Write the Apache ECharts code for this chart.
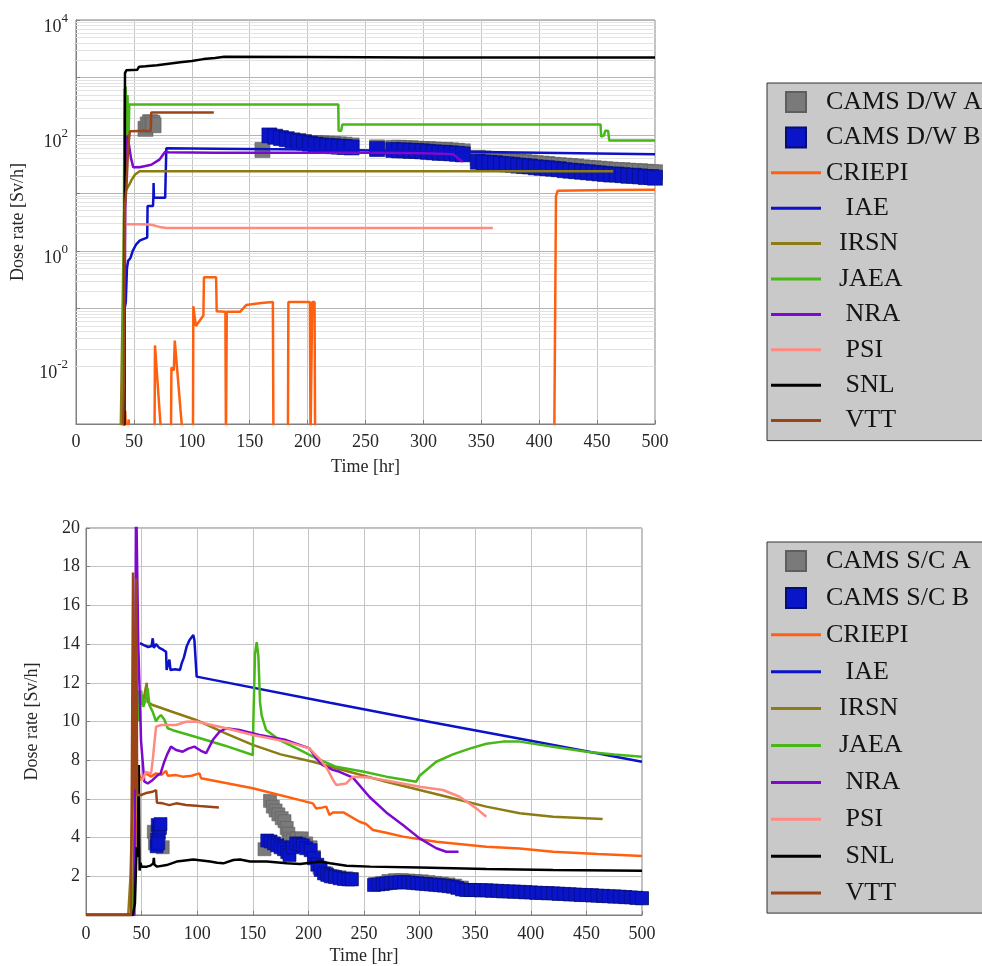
<!DOCTYPE html>
<html><head><meta charset="utf-8">
<script src="https://cdn.jsdelivr.net/npm/echarts@6/dist/echarts.min.js"></script>
<style>html,body{margin:0;padding:0;background:#fff}#c{width:982px;height:966px}</style>
</head><body><div id="c"></div><script>
// ---------- data (hours, Sv/h) ----------
const xTicks = [0,50,100,150,200,250,300,350,400,450,500];
const topYLabelExp = [-2,0,2,4];
const botYTicks = [2,4,6,8,10,12,14,16,18,20];

const legendTop = ['CAMS D/W A','CAMS D/W B','CRIEPI','IAE','IRSN','JAEA','NRA','PSI','SNL','VTT'];
const legendBot = ['CAMS S/C A','CAMS S/C B','CRIEPI','IAE','IRSN','JAEA','NRA','PSI','SNL','VTT'];

// top (log) chart
const topCamsA = [[60,130],[62,155],[64,170],[66,165],[67,150],[161,56],[192,80],[197,77],[202,74],[207,74],[212,73],[217,72],[222,71],[227,70],[232,69],[238,67],[260,62],[274,61],[279,61],[284,60],[289,60],[294,59],[299,58],[304,58],[309,57],[314,56],[319,56],[324,55],[329,54],[334,53],[347,41],[352,40],[357,39],[362,38],[367,37],[372,36.5],[377,36],[382,35],[387,34.5],[392,34],[397,33],[402,32.5],[407,32],[412,31],[417,30.5],[422,30],[427,29.5],[432,29],[437,28],[442,27.5],[447,27],[452,26.5],[457,26],[462,25.5],[467,25],[472,25],[477,24.5],[482,24],[487,24],[492,23.5],[497,23],[500,23]];
const topCamsB = [[167,100],[172,95],[177,90],[182,86],[187,82],[192,78],[197,75],[202,72],[207,69],[212,67],[217,66],[222,65],[227,64],[232,63],[238,62],[260,58],[274,56],[279,55],[284,55],[289,54],[294,54],[299,53],[304,52],[309,51],[314,50],[319,50],[324,49],[329,48],[334,47],[347,35],[352,34],[357,33.5],[362,33],[367,32],[372,31.5],[377,31],[382,30],[387,29.5],[392,29],[397,28],[402,27.5],[407,27],[412,26.5],[417,26],[422,25],[427,24.5],[432,24],[437,23.5],[442,23],[447,22.5],[452,22],[457,21.5],[462,21],[467,21],[472,20.5],[477,20],[482,20],[487,19.5],[492,19],[497,19],[500,18.5]];
const topCRIEPI = [[40,5e-4],[42,5e-4],[42.5,0.0017],[43.5,5e-4],[45,5e-4],[45.5,0.0012],[46,5e-4],[67.8,5e-4],[68.2,0.023],[74,5e-4],[82,5e-4],[82.4,0.0095],[84.5,0.0085],[85.3,0.028],[92.5,5e-4],[101,5e-4],[101.3,0.11],[103.5,0.05],[110,0.076],[110.5,0.35],[121,0.35],[121.5,0.09],[129,0.088],[129.5,5e-4],[130.2,0.088],[141.6,0.088],[147,0.115],[160,0.125],[170,0.13],[170.5,5e-4],[183,5e-4],[183.4,0.13],[202,0.13],[202.5,5e-4],[204,0.13],[206,0.13],[206.5,5e-4],[413,5e-4],[414.5,9],[416,11],[460,11.3],[500,11.4]];
const topIAE = [[42,0.1],[43,0.13],[44,0.5],[45,0.67],[47,0.75],[49,1.0],[52,1.3],[55,1.5],[58,1.6],[61.5,1.7],[61.8,6],[66.5,6],[66.8,8.3],[67,15],[67.3,8.3],[77,8.3],[78,60],[120,59],[200,57],[300,53],[400,50],[500,47]];
const topIRSN = [[38.5,5e-4],[40,0.05],[41.5,4],[42.3,10.5],[44,12],[46,14],[48,17],[51,21],[55,24],[464,24]];
const topJAEA = [[41,5e-4],[41.5,17],[42,650],[42.5,30],[43,700],[43.5,25],[44.5,500],[45.2,60],[46,345],[226.5,345],[226.8,120],[229,120],[230,155],[453,155],[453.5,95],[456,100],[457,120],[459.5,120],[460.5,82],[500,82]];
const topNRA = [[41.5,5e-4],[42.5,5],[43.5,40],[44.5,100],[46,105],[47.5,40],[49.5,28],[55,28],[65,31],[72,38],[77,52],[80,51],[120,50],[200,50],[250,50],[300,49],[326,47],[330,40],[334,35]];
const topPSI = [[42,2.9],[55,2.9],[62,2.85],[66,2.8],[72,2.6],[78,2.5],[200,2.5],[360,2.5]];
const topSNL = [[40.5,5e-4],[41.8,1e-3],[42.3,1200],[43.5,1350],[53,1380],[54.5,1550],[60,1580],[70,1650],[80,1750],[90,1850],[100,1950],[110,2100],[120,2200],[128,2300],[200,2280],[300,2250],[500,2230]];
const topVTT = [[40.5,5e-4],[41.5,0.01],[42.3,6],[43.5,12],[45,60],[46.5,118],[64.5,120],[65,250],[119,250]];

// bottom (linear) chart
const botCamsA = [[61,4.3],[62,3.7],[69,3.5],[160.5,3.4],[165.5,5.9],[168,5.6],[170.5,5.4],[173,5.2],[176,5.0],[178.5,4.85],[180.5,4.5],[182,4.2],[183.5,3.95],[186,3.85],[190,3.95],[194,3.96],[198,3.7],[202,3.5],[205,3.0],[210,2.45],[216,2.15],[222,2.0],[228,1.95],[234,1.9],[239,1.86],[260,1.6],[266,1.66],[272,1.76],[278,1.8],[284,1.8],[290,1.78],[296,1.76],[302,1.74],[308,1.7],[314,1.66],[320,1.62],[326,1.58],[332,1.52],[338,1.42],[345,1.3],[355,1.27],[365,1.25],[375,1.22],[385,1.2],[395,1.17],[405,1.14],[415,1.12],[425,1.09],[435,1.06],[445,1.03],[455,1.01],[465,0.98],[475,0.95],[485,0.92],[495,0.88],[500,0.86]];
const botCamsB = [[63.5,3.55],[64,3.9],[64.5,4.65],[65.5,4.25],[66.5,4.5],[67,4.7],[65,3.7],[163,3.85],[166,3.8],[169,3.7],[172,3.6],[175,3.5],[178,3.4],[181,3.25],[183,3.1],[186,3.5],[189,3.7],[192,3.65],[195,3.6],[198,3.45],[202,3.35],[205,2.93],[208,2.6],[211,2.33],[214,2.15],[217,2.07],[220,2.0],[224,1.96],[228,1.9],[232,1.86],[236,1.84],[239,1.84],[259,1.55],[263,1.58],[267,1.6],[270,1.64],[274,1.66],[278,1.68],[282,1.69],[286,1.7],[290,1.68],[294,1.66],[298,1.64],[302,1.62],[306,1.6],[310,1.58],[314,1.56],[318,1.54],[322,1.52],[326,1.49],[330,1.46],[334,1.4],[338,1.32],[342,1.29],[346,1.29],[350,1.29],[355,1.28],[360,1.28],[365,1.26],[370,1.25],[375,1.23],[380,1.22],[385,1.21],[390,1.2],[395,1.18],[400,1.17],[405,1.15],[410,1.14],[415,1.13],[420,1.12],[425,1.1],[430,1.09],[435,1.07],[440,1.06],[445,1.04],[450,1.03],[455,1.02],[460,1.0],[465,0.99],[470,0.97],[475,0.96],[480,0.95],[485,0.93],[490,0.91],[495,0.89],[500,0.87]];
const botCRIEPI = [[0,0],[42,0],[44,3],[45.5,6],[46.5,7.6],[48,7.2],[49.5,6.98],[52,7.2],[54,7.32],[58.5,7.15],[63,7.32],[68,7.25],[72,7.45],[73.5,7.2],[81,7.23],[87,7.15],[95,7.2],[102,7.32],[103.5,7.07],[150,6.55],[204,5.77],[207,5.5],[212,5.55],[216,5.6],[219,5.17],[222,5.3],[231.5,5.3],[246,4.82],[252,4.7],[258,4.39],[270,4.25],[285,4.05],[315,3.79],[360,3.53],[390,3.44],[420,3.27],[460,3.15],[500,3.05]];
const botIAE = [[48.5,14.05],[52,13.95],[56,13.85],[59,13.9],[60,14.3],[61,13.8],[63,14.0],[66,13.8],[69.5,13.7],[72,13.6],[72.5,12.66],[74,12.7],[75,13.2],[76,12.66],[80,12.7],[84.5,12.66],[86,13.0],[88,13.3],[90.5,13.87],[93,14.2],[96.5,14.47],[97.5,14.2],[99.5,12.32],[219.4,10.97],[300,10.08],[400,9.0],[500,7.92]];
const botIRSN = [[0,0],[38,0],[40,2],[42,6],[44,9],[45.5,10.5],[48,10.8],[52,11.2],[54.6,12.0],[55.5,11.0],[57,10.9],[60,10.85],[80,10.45],[99,10.08],[125,9.4],[150,8.79],[175,8.3],[204,7.92],[240,7.35],[270,6.89],[300,6.46],[330,6.03],[360,5.6],[390,5.26],[420,5.08],[464.6,4.96]];
const botJAEA = [[0,0],[42,0],[44,5],[45.5,10],[46.5,11.6],[47.5,10.0],[48.5,11.4],[49.5,11.6],[51.5,10.76],[53,11.0],[55.5,11.7],[57,10.85],[60,10.5],[63,10.0],[65,10.2],[67.4,10.33],[70.4,10.1],[73.5,9.65],[78,9.55],[99,9.2],[125,8.75],[150,8.27],[150.5,10],[152,13.5],[153.5,14.1],[155,13.4],[156.5,11],[158,10.3],[162,9.56],[174,9.04],[190,8.6],[204,8.18],[225,7.66],[250,7.4],[270,7.15],[297,6.89],[300,7.2],[315,7.92],[330,8.3],[345,8.6],[360,8.85],[375,8.96],[390,8.96],[420,8.7],[450,8.44],[475,8.3],[500,8.18]];
const botNRA = [[0,0],[43.5,0],[45,22],[46,22],[47,14],[49.5,9],[52.4,6.9],[55.5,6.8],[60,6.98],[64.5,7.23],[67,7.3],[70.4,7.92],[73,8.3],[76.4,8.7],[81,8.53],[87,8.44],[92,8.6],[97.4,8.7],[103,8.5],[108,8.36],[114,9.04],[120,9.47],[126,9.65],[138,9.56],[156,9.3],[180,9.04],[201,8.61],[207,8.1],[213,7.75],[222,7.5],[228,7.4],[240,7.1],[255,6.1],[270,5.3],[285,4.65],[300,3.96],[315,3.45],[324,3.27],[335,3.27]];
const botPSI = [[47.5,7.0],[51,7.0],[54,7.4],[58.5,7.3],[60,8.0],[63,9.73],[67.5,9.82],[81,9.82],[90,9.99],[99,10.0],[126,9.65],[150,9.3],[180,8.96],[201,8.61],[206,8.3],[210.4,8.05],[216.5,7.6],[222,7.0],[225,6.72],[234,6.8],[240,7.15],[255,7.1],[270,6.95],[300,6.63],[321,6.46],[336,6.11],[351,5.51],[360,5.08]];
const botSNL = [[0,0],[42,0],[44,0.6],[45.5,3.5],[46.5,3.0],[47.5,7.75],[48.2,2.3],[49,2.7],[50,2.5],[54.6,2.5],[58,2.55],[60.5,2.67],[61,2.95],[61.5,2.6],[64,2.5],[72.5,2.58],[77,2.67],[81.5,2.76],[96.5,2.87],[111.5,2.76],[118,2.7],[123.5,2.67],[132.5,2.84],[138.5,2.87],[147.5,2.76],[162.5,2.76],[180.5,2.67],[192.5,2.64],[210.4,2.76],[219.4,2.67],[234.4,2.55],[255.5,2.5],[300,2.45],[360,2.38],[420,2.33],[500,2.29]];
const botVTT = [[0,0],[40.5,0],[42.3,17.7],[43,9],[44,6.5],[45.2,17.4],[46,6.2],[49.5,6.2],[54,6.3],[60,6.37],[63,6.46],[63.8,5.8],[69,5.77],[75,5.68],[81,5.77],[90,5.68],[102,5.63],[119.5,5.56]];

// ---------- styling ----------
const F = 'Liberation Serif';
const TXT = '#262626';
const AX = '#7f7f7f';
const colors = {CRIEPI:'#ff6010', IAE:'#0c12c8', IRSN:'#8c7c14', JAEA:'#48b818', NRA:'#7f08d0', PSI:'#ff8a82', SNL:'#000000', VTT:'#9a4418'};
const grayC = '#7a7a7a', blueC = '#0a14c8';
const SQ = 'path://M0,0L10,0L10,10L0,10Z';
const LN = 'path://M0,0L50,0L50,3L0,3Z';

function line(name, data, xi) {
  return {name, type:'line', data, xAxisIndex:xi, yAxisIndex:xi, symbol:'none', showSymbol:false,
    lineStyle:{color:colors[name], width:2.5}, itemStyle:{color:colors[name]}, z:3, clip:true, silent:true};
}
function squares(name, data, xi, color, border, size) {
  return {name, type:'scatter', data, xAxisIndex:xi, yAxisIndex:xi, symbol:'rect', symbolSize:size,
    itemStyle:{color, borderColor:border, borderWidth:0.6, opacity:1}, z:2, clip:true, silent:true};
}

const minorVals = [];
for (let k = -3; k <= 3; k++) for (let m = 2; m <= 9; m++) minorVals.push(m * Math.pow(10, k));

const indent = {IAE:3, IRSN:2, JAEA:2, NRA:3, PSI:3, SNL:3, VTT:3};
function legendCfg(names, top, gap) {
  return {
    orient:'vertical', left:767, top, backgroundColor:'#c9c9c9', borderColor:'#333', borderWidth:1,
    itemWidth:50, itemHeight:20, itemGap:gap, padding:[6,60,7,4], selectedMode:false,
    symbolKeepAspect:true,
    textStyle:{fontFamily:F, fontSize:26, color:'#141414', lineHeight:22},
    formatter: n => '\u00a0'.repeat(indent[n] || 0) + n,
    data: names.map(n => n.startsWith('CAMS')
      ? {name:n, icon:SQ}
      : {name:n, icon:LN, itemStyle:{color:colors[n], borderWidth:0}})
  };
}

const xAxisBase = (gi, margin, gap) => ({
  type:'value', gridIndex:gi, min:xTicks[0], max:xTicks[xTicks.length-1], interval:xTicks[1]-xTicks[0],
  name:'Time [hr]', nameLocation:'middle', nameGap:gap,
  nameTextStyle:{fontFamily:F, fontSize:18, color:TXT},
  axisLine:{lineStyle:{color:AX}}, axisTick:{inside:true, length:4, lineStyle:{color:AX}},
  axisLabel:{fontFamily:F, fontSize:18, color:TXT, margin},
  splitLine:{show:true, lineStyle:{color:'#c4c4c4', width:1}}
});

const option = {
  animation:false,
  backgroundColor:'#ffffff',
  grid:[
    {left:76, top:20, width:579, height:404, show:true, borderColor:AX, borderWidth:1, backgroundColor:'transparent'},
    {left:86, top:528, width:556, height:387, show:true, borderColor:AX, borderWidth:1, backgroundColor:'transparent'}
  ],
  legend:[legendCfg(legendTop, 83, 9.4), legendCfg(legendBot, 542, 10.9)],
  xAxis:[xAxisBase(0, 9, 34), xAxisBase(1, 10, 32)],
  yAxis:[
    {type:'log', logBase:10, gridIndex:0, min:0.001, max:10000, interval:1,
     name:'Dose rate [Sv/h]', nameLocation:'middle', nameGap:49,
     nameTextStyle:{fontFamily:F, fontSize:18, color:TXT},
     axisLine:{lineStyle:{color:AX}}, axisTick:{inside:true, length:4, lineStyle:{color:AX}},
     axisLabel:{margin:8, color:TXT, fontFamily:F, padding:[14,0,0,0],
       formatter: v => { const e = Math.round(Math.log10(v)); return topYLabelExp.includes(e) ? '{b|10}{s|' + e + '}' : ''; },
       rich:{ b:{fontFamily:F, fontSize:18, color:TXT, lineHeight:30},
              s:{fontFamily:F, fontSize:13, color:TXT, lineHeight:18, verticalAlign:'top'} }},
     splitLine:{show:true, lineStyle:{color:'#b4b4b4', width:1}}},
    {type:'value', gridIndex:1, min:0, max:20, interval:2,
     name:'Dose rate [Sv/h]', nameLocation:'middle', nameGap:45,
     nameTextStyle:{fontFamily:F, fontSize:18, color:TXT},
     axisLine:{lineStyle:{color:AX}}, axisTick:{inside:true, length:4, lineStyle:{color:AX}},
     axisLabel:{fontFamily:F, fontSize:18, color:TXT, margin:6, formatter: v => botYTicks.includes(v) ? String(v) : ''},
     splitLine:{show:true, lineStyle:{color:'#c4c4c4', width:1}}}
  ],
  series:[
    {type:'line', xAxisIndex:0, yAxisIndex:0, data:[], silent:true,
     markLine:{silent:true, symbol:'none', z:1, animation:false, label:{show:false},
       lineStyle:{color:'#e2e2e2', width:1, type:'solid'}, emphasis:{disabled:true},
       data:minorVals.map(v => ({yAxis:v}))}},
    squares('CAMS D/W A', topCamsA, 0, grayC, '#5e5e5e', 15),
    squares('CAMS D/W B', topCamsB, 0, blueC, '#050f70', 15),
    line('CRIEPI', topCRIEPI, 0), line('IAE', topIAE, 0), line('IRSN', topIRSN, 0), line('JAEA', topJAEA, 0),
    line('NRA', topNRA, 0), line('PSI', topPSI, 0), line('SNL', topSNL, 0), line('VTT', topVTT, 0),
    squares('CAMS S/C A', botCamsA, 1, grayC, '#5e5e5e', 13),
    squares('CAMS S/C B', botCamsB, 1, blueC, '#050f70', 13),
    line('CRIEPI', botCRIEPI, 1), line('IAE', botIAE, 1), line('IRSN', botIRSN, 1), line('JAEA', botJAEA, 1),
    line('NRA', botNRA, 1), line('PSI', botPSI, 1), line('SNL', botSNL, 1), line('VTT', botVTT, 1)
  ]
};
const chart = echarts.init(document.getElementById('c'), null, {renderer:'canvas'});
chart.setOption(option);
</script></body></html>
